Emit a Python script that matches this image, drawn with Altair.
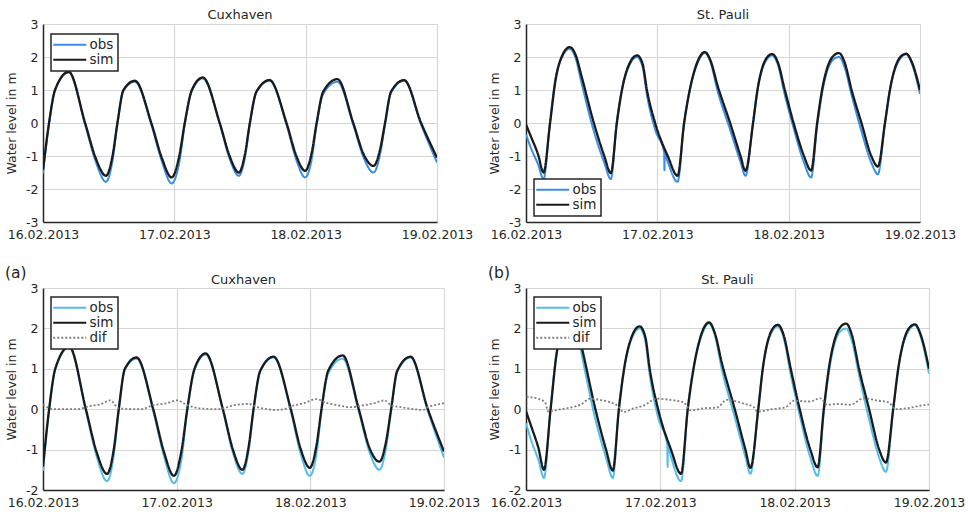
import altair as alt
import pandas as pd

# ---- axes ---------------------------------------------------------------
HOUR_TICKS = [0, 24, 48, 72]
DAY_LABELS = ["16.02.2013", "17.02.2013", "18.02.2013", "19.02.2013"]
PANEL_TAGS = ["(a)", "(b)"]
STATIONS = ["Cuxhaven", "St. Pauli"]
Y_TITLES = ["Water level in m", "Water level in  m"]

# ---- Cuxhaven (hours after 16.02.2013 00:00, water level in m) ----------
CUX_T = [0, 1.1, 2.2, 4.7, 7.7, 9.6, 11.5, 12.7, 13.6, 14.7,
         16.8, 19.8, 21.7, 23.5, 24.9, 25.9, 27.2, 29.2, 32.3, 34.1,
         35.8, 36.9, 37.8, 39.0, 41.4, 44.5, 46.3, 47.9, 49.1, 50.0,
         51.2, 53.8, 56.7, 58.6, 60.4, 61.6, 62.5, 63.6, 66.0, 69.1, 72]
CUX_SIM = [-1.42, 0.0, 1.0, 1.55, 0.0, -1.05, -1.60, -1.0, 0.0, 1.0,
           1.28, 0.0, -1.05, -1.65, -1.0, 0.0, 1.0, 1.38, 0.0, -1.0,
           -1.50, -0.95, 0.0, 0.95, 1.30, 0.0, -1.0, -1.45, -0.9, 0.0,
           0.95, 1.33, 0.0, -0.95, -1.30, -0.8, 0.0, 0.95, 1.30, 0.0, -1.05]
CUX_OBS = [-1.53, -0.02, 1.0, 1.53, -0.05, -1.15, -1.78, -1.15, -0.02, 0.98,
           1.25, -0.05, -1.15, -1.83, -1.2, -0.05, 0.97, 1.35, -0.03, -1.08,
           -1.60, -1.05, -0.02, 0.93, 1.28, -0.05, -1.12, -1.65, -1.1, -0.05,
           0.88, 1.25, -0.05, -1.05, -1.50, -0.95, -0.05, 0.92, 1.28, -0.05, -1.20]
CUX_DIF_T = [0, 1.9, 6.1, 8.5, 10.3, 12.1, 13.6, 17.5, 19.9, 22.3,
             24.1, 25.9, 28.3, 31.3, 33.1, 34.3, 37.0, 38.5, 40.3, 41.5,
             43.3, 44.5, 46.9, 49.0, 51.1, 52.9, 55.3, 57.7, 59.5, 61.3,
             62.5, 64.3, 66.7, 68.2, 69.1, 70.9, 72]
CUX_DIF = [0.11, 0.0, 0.0, 0.08, 0.12, 0.22, 0.02, 0.0, 0.10, 0.15,
           0.22, 0.10, 0.02, 0.0, 0.05, 0.10, 0.13, 0.05, 0.0, -0.02,
           0.0, 0.07, 0.15, 0.25, 0.15, 0.10, 0.05, 0.10, 0.15, 0.22,
           0.10, 0.05, 0.0, -0.02, 0.05, 0.12, 0.15]

# ---- St. Pauli ----------------------------------------------------------
STP_T = [0, 1.0, 2.2, 3.2, 4.4, 5.4, 6.5, 8.0, 9.1, 10.1,
         12.4, 14.3, 15.5, 16.6, 17.6, 18.9, 20.3, 21.3, 22.1, 23.6,
         25.9, 27.7, 28.9, 30.0, 31.2, 32.7, 33.7, 35.0, 37.3, 39.2,
         40.1, 41.5, 42.3, 44.1, 45.0, 46.0, 47.3, 48.9, 50.8, 52.1,
         53.2, 54.1, 56.0, 57.2, 58.2, 59.5, 61.3, 63.1, 64.3, 65.6,
         66.5, 68.4, 69.5, 70.5, 72.0]
STP_SIM = [-0.05, -0.45, -0.95, -1.50, 0.0, 1.3, 2.0, 2.30, 2.05, 1.45,
           0.0, -1.0, -1.52, 0.0, 1.06, 1.8, 2.05, 1.8, 1.0, 0.0,
           -1.0, -1.60, 0.0, 1.06, 1.8, 2.15, 1.9, 1.14, 0.0, -1.0,
           -1.45, 0.0, 1.0, 2.0, 2.09, 1.85, 1.0, 0.0, -1.0, -1.44,
           0.0, 1.0, 2.0, 2.12, 1.85, 1.0, 0.0, -1.0, -1.32, 0.0,
           1.0, 2.0, 2.10, 1.85, 1.0]
# observed series carries a short spike shortly after 17.02 01:00
STP_OBS_T = [0, 1.0, 2.2, 3.2, 4.4, 5.4, 6.5, 8.0, 9.1, 10.1,
             12.4, 14.3, 15.5, 16.6, 17.6, 18.9, 20.3, 21.3, 22.1, 23.6,
             25.25, 25.3, 25.35, 25.9, 27.7, 28.9, 30.0, 31.2, 32.7, 33.7,
             35.0, 37.3, 39.2, 40.1, 41.5, 42.3, 44.1, 45.0, 46.0, 47.3,
             48.9, 50.8, 52.1, 53.2, 54.1, 56.0, 57.2, 58.2, 59.5, 61.3,
             63.1, 64.3, 65.6, 66.5, 68.4, 69.5, 70.5, 72.0]
STP_OBS = [-0.35, -0.80, -1.25, -1.70, 0.05, 1.35, 1.97, 2.25, 1.95, 1.25,
           -0.25, -1.2, -1.70, 0.05, 1.06, 1.75, 2.0, 1.7, 0.85, -0.2,
           -0.9, -1.43, -0.92, -1.18, -1.78, 0.03, 1.06, 1.75, 2.12, 1.85,
           0.98, -0.2, -1.18, -1.60, 0.05, 1.0, 1.95, 2.05, 1.78, 0.85,
           -0.15, -1.2, -1.65, -0.1, 0.9, 1.9, 2.0, 1.7, 0.85, -0.25,
           -1.2, -1.55, 0.0, 1.0, 1.95, 2.08, 1.8, 0.88]
STP_DIF_T = [0.1, 1.9, 3.4, 4.0, 5.5, 7.9, 9.7, 11.5, 13.2, 15.0,
             16.5, 17.4, 19.2, 21.0, 23.4, 25.8, 28.2, 29.4, 31.7, 34.1,
             35.9, 38.6, 40.7, 41.3, 44.0, 46.4, 47.9, 50.6, 52.6, 53.8,
             55.9, 58.0, 60.3, 63.0, 64.8, 66.0, 67.8, 71.4, 72]
STP_DIF = [0.31, 0.27, 0.17, -0.06, -0.02, 0.04, 0.11, 0.26, 0.23, 0.17,
           0.07, -0.07, 0.02, 0.09, 0.26, 0.23, 0.17, -0.03, 0.02, 0.04,
           0.23, 0.15, 0.05, -0.06, 0.0, 0.05, 0.21, 0.19, 0.27, 0.11,
           0.13, 0.11, 0.27, 0.21, 0.17, 0.0, 0.02, 0.11, 0.12]

# ---- styling ------------------------------------------------------------
FONT = "DejaVu Sans"
INK = "#262626"
OBS_TOP = "#3a8ee6"
OBS_BOTTOM = "#52bdec"
SIM_COLOR = "#1a1a1a"
DIF_COLOR = "#7f7f7f"
WIDTH = {"obs": 2.0, "sim": 2.3, "dif": 1.8}

day_expr = "[" + ",".join(f"'{d}'" for d in DAY_LABELS) + "][datum.value / 24]"
minus_expr = "datum.value < 0 ? '-' + abs(datum.value) : '' + datum.value"


def frame(t, v, name):
    return pd.DataFrame({"h": t, "v": v, "series": name})


def panel(frames, colors, dashes, ydom, ytitle, title, width, height,
          legend_y, tag=None):
    names = [f["series"].iloc[0] for f in frames]
    legend = alt.Legend(title=None, orient="none", legendX=8, legendY=legend_y)
    x = alt.X("h:Q", scale=alt.Scale(domain=[0, 72], nice=False, zero=False),
              axis=alt.Axis(values=HOUR_TICKS, labelExpr=day_expr, title=None,
                            labelFlush=False, labelOverlap=False,
                            labelPadding=6))
    y = alt.Y("v:Q", scale=alt.Scale(domain=ydom, nice=False, zero=False),
              axis=alt.Axis(values=list(range(ydom[0], ydom[1] + 1)),
                            labelExpr=minus_expr, title=ytitle,
                            labelFlush=False, titlePadding=7))
    color = alt.Color("series:N", scale=alt.Scale(domain=names, range=colors),
                      legend=legend)
    dash = alt.StrokeDash("series:N", scale=alt.Scale(domain=names, range=dashes),
                          legend=legend)
    layers = [
        alt.Chart(f).mark_line(interpolate="monotone", clip=True,
                               strokeWidth=WIDTH[f["series"].iloc[0]])
        .encode(x=x, y=y, color=color, strokeDash=dash)
        for f in frames
    ]
    title_offset = -4
    if tag is not None:
        # the panel tag sits above the plot, so the title is pulled back down
        title_offset = -21
        layers.append(
            alt.Chart(pd.DataFrame({"tag": [tag]}))
            .mark_text(align="left", baseline="middle", font=FONT,
                       fontSize=15.5, color=INK)
            .encode(text="tag:N", x=alt.value(-38), y=alt.value(-15))
        )
    return alt.layer(*layers).properties(
        width=width, height=height,
        title=alt.TitleParams(title, font=FONT, fontSize=13, fontWeight="normal",
                              color=INK, offset=title_offset, anchor="middle",
                              frame="group"),
    )


top_left = panel(
    [frame(CUX_T, CUX_OBS, "obs"), frame(CUX_T, CUX_SIM, "sim")],
    [OBS_TOP, SIM_COLOR], [[1, 0], [1, 0]], [-3, 3], Y_TITLES[0],
    STATIONS[0], 394, 198, 10)
top_right = panel(
    [frame(STP_OBS_T, STP_OBS, "obs"), frame(STP_T, STP_SIM, "sim")],
    [OBS_TOP, SIM_COLOR], [[1, 0], [1, 0]], [-3, 3], Y_TITLES[0],
    STATIONS[1], 394, 198, 155)
bottom_left = panel(
    [frame(CUX_T, CUX_OBS, "obs"), frame(CUX_T, CUX_SIM, "sim"),
     frame(CUX_DIF_T, CUX_DIF, "dif")],
    [OBS_BOTTOM, SIM_COLOR, DIF_COLOR], [[1, 0], [1, 0], [2, 2]], [-2, 3],
    Y_TITLES[1], STATIONS[0], 401, 202, 9, PANEL_TAGS[0])
bottom_right = panel(
    [frame(STP_OBS_T, STP_OBS, "obs"), frame(STP_T, STP_SIM, "sim"),
     frame(STP_DIF_T, STP_DIF, "dif")],
    [OBS_BOTTOM, SIM_COLOR, DIF_COLOR], [[1, 0], [1, 0], [2, 2]], [-2, 3],
    Y_TITLES[0], STATIONS[1], 403, 202, 9, PANEL_TAGS[1])

chart = (
    alt.concat(top_left, top_right, bottom_left, bottom_right, columns=2,
               spacing={"row": 66, "column": 82}, bounds="flush", align="none")
    .resolve_scale(color="independent", strokeDash="independent")
    .resolve_legend(color="independent", strokeDash="independent")
    .properties(padding={"left": 5, "top": 9, "right": 2, "bottom": 2},
                background="white")
    .configure_view(stroke=None)
    .configure_axis(domainColor=INK, domainWidth=1.5, gridColor="#d6d6d6",
                    gridWidth=1.1, ticks=False, tickSize=0, labelPadding=5,
                    labelFont=FONT, labelFontSize=12.5, labelColor=INK,
                    titleFont=FONT, titleFontSize=12.5, titleFontWeight="normal",
                    titleColor=INK)
    .configure_legend(labelFont=FONT, labelFontSize=13.5, labelColor=INK,
                      strokeColor=INK, strokeWidth=1.5, fillColor="white",
                      padding=4, rowPadding=0, symbolType="M-3,0H3",
                      symbolSize=121, symbolStrokeWidth=2, symbolOffset=8,
                      labelOffset=13)
)

chart.save("out.html", embed_options={"renderer": "svg", "actions": False})
